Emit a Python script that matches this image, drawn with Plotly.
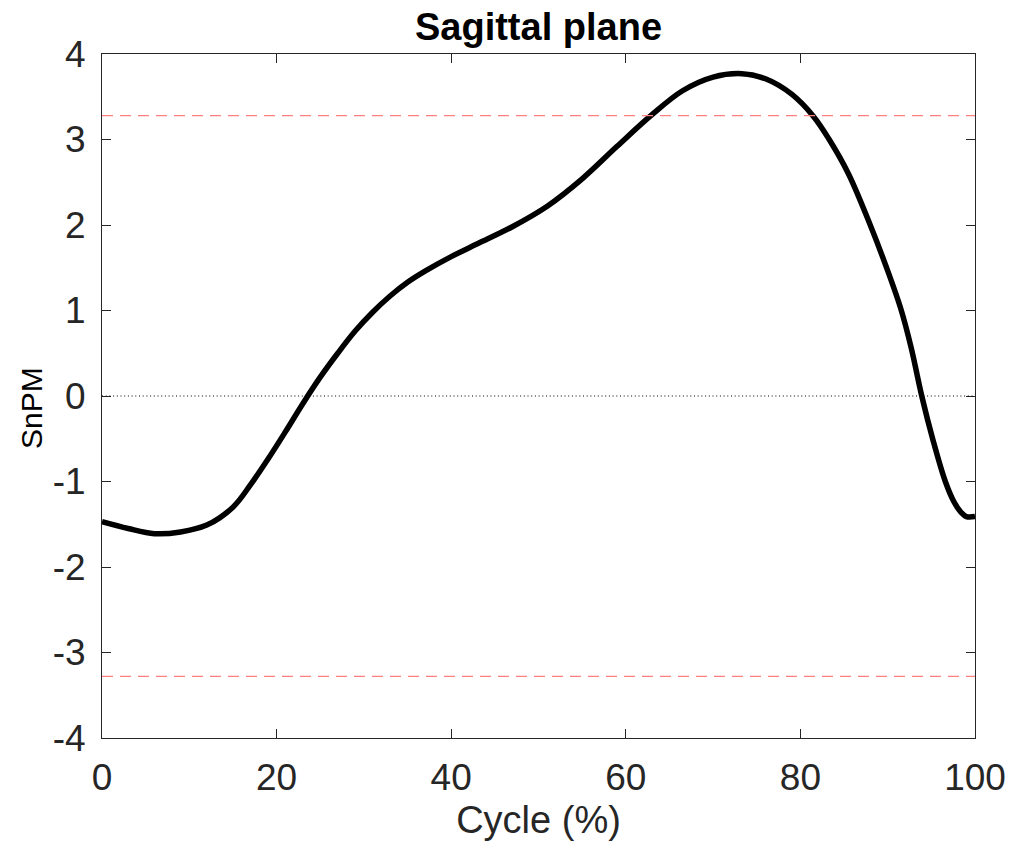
import plotly.graph_objects as go

# SnPM statistic over the gait cycle (sagittal plane)
cycle_pct = [0, 3, 6, 9, 12, 15, 17, 19, 21, 23, 25, 27, 29, 31, 33, 35, 37, 40,
             43, 47, 51, 55, 59, 63, 66.5, 70, 73.3, 76, 79, 81.5, 83.3, 85.5,
             88.0, 89.8, 91.5, 92.7, 93.9, 95.2, 96.6, 97.6, 98.4, 99, 100]
snpm_t = [-1.47, -1.55, -1.61, -1.59, -1.51, -1.30, -1.04, -0.74, -0.42, -0.09,
          0.22, 0.50, 0.76, 0.98, 1.17, 1.33, 1.46, 1.63, 1.78, 1.98, 2.22, 2.54,
          2.92, 3.29, 3.57, 3.73, 3.77, 3.71, 3.53, 3.27, 3.00, 2.60, 2.00, 1.52,
          1.02, 0.56, 0.00, -0.52, -1.00, -1.24, -1.36, -1.41, -1.41]

# critical threshold
t_crit = 3.28

x_ticks = [0, 20, 40, 60, 80, 100]
y_ticks = [-4, -3, -2, -1, 0, 1, 2, 3, 4]

axis_color = "#262626"
font_family = "Liberation Sans, Arial, Helvetica, sans-serif"

fig = go.Figure()

fig.add_trace(go.Scatter(
    x=cycle_pct, y=snpm_t, mode="lines",
    line=dict(color="black", width=5.5, shape="spline", smoothing=1.0),
    showlegend=False, hoverinfo="skip",
))

# threshold and zero reference lines
for yv in (t_crit, -t_crit):
    fig.add_shape(type="line", xref="paper", x0=0, x1=1, yref="y", y0=yv, y1=yv,
                  line=dict(color="#ff7f7f", width=1.3, dash="11px,7px"))
fig.add_shape(type="line", xref="paper", x0=0, x1=1, yref="y", y0=0, y1=0,
              line=dict(color="black", width=1, dash="1px,2.7px"))

# y-axis label
fig.add_annotation(
    text="SnPM", textangle=-90, showarrow=False,
    xref="paper", x=(32 - 102) / 873, xanchor="center",
    yref="paper", y=(742 - 410) / 688, yanchor="middle",
    font=dict(size=30, color="black", family=font_family),
)

fig.update_layout(
    width=1026, height=845,
    margin=dict(l=102, r=51, t=54, b=103),
    paper_bgcolor="white", plot_bgcolor="white",
    font=dict(family=font_family, color=axis_color),
    title=dict(
        text="Sagittal plane", x=0.5, xref="paper", xanchor="center",
        y=1 - 27 / 845, yref="container", yanchor="middle",
        font=dict(size=38, color="black", family=font_family, weight="bold"),
    ),
)

fig.update_xaxes(
    range=[0, 100], tickvals=x_ticks, ticktext=[str(v) for v in x_ticks],
    showgrid=False, zeroline=False,
    showline=True, linecolor=axis_color, linewidth=1, mirror="ticks",
    ticks="inside", ticklen=9, tickwidth=1, tickcolor=axis_color,
    tickfont=dict(size=37, color=axis_color), ticklabelstandoff=7,
    title=dict(text="Cycle (%)", font=dict(size=38, color=axis_color), standoff=8),
)
fig.update_yaxes(
    range=[-4, 4], tickvals=y_ticks, ticktext=[str(v) for v in y_ticks],
    showgrid=False, zeroline=False,
    showline=True, linecolor=axis_color, linewidth=1, mirror="ticks",
    ticks="inside", ticklen=9, tickwidth=1, tickcolor=axis_color,
    tickfont=dict(size=37, color=axis_color), ticklabelstandoff=8,
)

fig.write_html("out.html")
